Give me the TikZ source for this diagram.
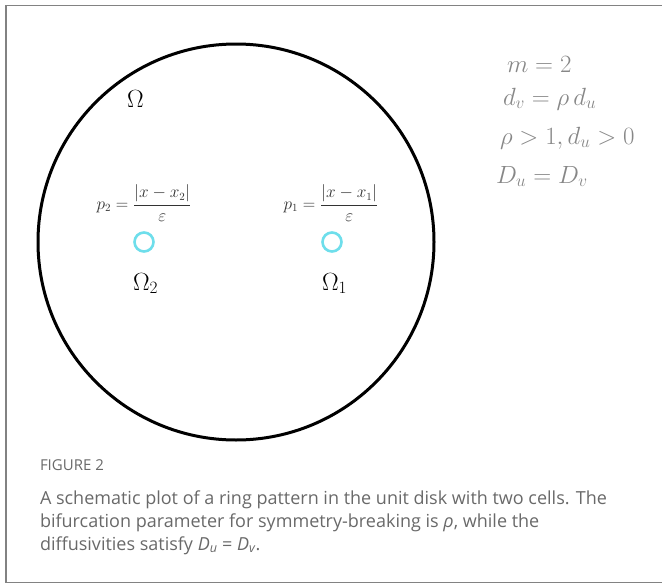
\documentclass[tikz,border=0pt]{standalone}
\usepackage{fontspec}
\newfontfamily\capfont{Open Sans}
\definecolor{cellcyan}{RGB}{110,222,235}
\definecolor{eqgray}{RGB}{135,135,135}
\definecolor{capgray}{RGB}{105,105,105}
\definecolor{framegray}{RGB}{130,130,130}
\begin{document}
\begin{tikzpicture}[x=1pt, y=-1pt,
  every node/.style={inner sep=0pt, outer sep=0pt},
  cell/.style={circle, draw=cellcyan, line width=2.6pt, minimum size=19pt},
  bigsym/.style={anchor=base west, font=\fontsize{24}{28}\selectfont},
  rule/.style={anchor=base west, text=eqgray, font=\fontsize{24}{28}\selectfont},
  caption/.style={anchor=base west, text=capgray, font=\capfont\fontsize{18}{22}\selectfont}]
  \useasboundingbox (0,0) rectangle (662,584);

  % panel frame
  \draw[framegray, line width=1.8pt] (664,5.5) -- (6,5.5) -- (6,582.5) -- (664,582.5);

  % the unit disk
  \node[circle, draw, line width=3pt, minimum size=396pt] (disk) at (236,242) {};
  \node[bigsym] (omega) at (127,107) {$\Omega$};

  % two cells
  \node[cell] (cell2) at (144,242) {};
  \node[cell] (cell1) at (332,242) {};
  \node[font=\fontsize{16}{19}\selectfont, text=black!80] (p2) at (144,203)
    {$\displaystyle p_2=\frac{|x-x_2|}{\varepsilon}$};
  \node[font=\fontsize{16}{19}\selectfont, text=black!80] (p1) at (331,203)
    {$\displaystyle p_1=\frac{|x-x_1|}{\varepsilon}$};
  \node[bigsym] (omega2) at (133,290) {$\Omega_2$};
  \node[bigsym] (omega1) at (322,290) {$\Omega_1$};

  % parameters
  \node[rule] (mval) at (507,72) {$m=2$};
  \node[rule] (dv) at (503,105) {$d_v=\rho\,d_u$};
  \node[rule] (rho) at (500,144) {$\rho>1,d_u>0$};
  \node[rule] (Du) at (496,183) {$D_u=D_v$};

  % caption
  \node[caption, font=\capfont\fontsize{15}{18}\selectfont] (fig) at (40,470) {FIGURE 2};
  \node[caption] (cap1) at (40,504) {A schematic plot of a ring pattern in the unit disk with two cells. The};
  \node[caption] (cap2) at (40,527) {bifurcation parameter for symmetry-breaking is {\itshape ρ}, while the};
  \node[caption] (cap3) at (40,550) {diffusivities satisfy {\itshape D}\textsubscript{\itshape u} = {\itshape D}\textsubscript{\itshape v}.};
\end{tikzpicture}
\end{document}
